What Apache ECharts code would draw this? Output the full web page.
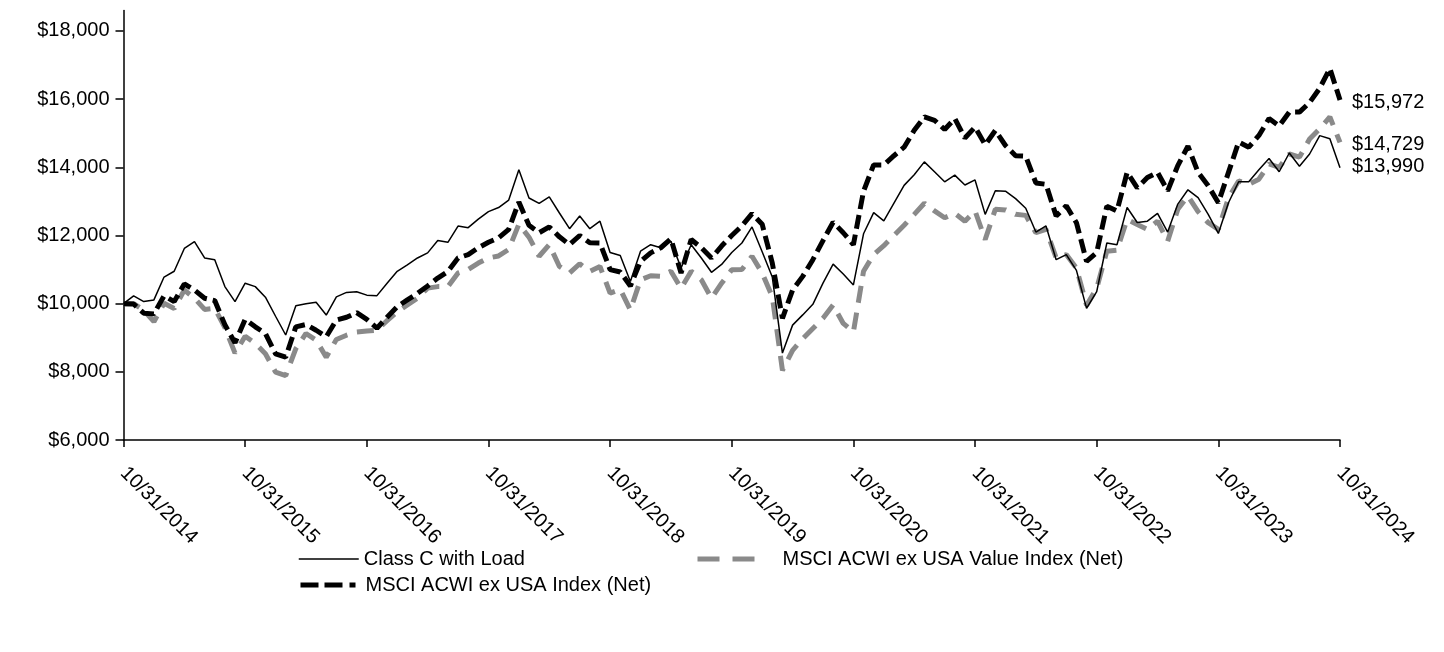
<!DOCTYPE html>
<html>
<head>
<meta charset="utf-8">
<script src="https://cdn.jsdelivr.net/npm/echarts@6/dist/echarts.min.js"></script>
<style>
html,body{margin:0;padding:0;background:#fff;}
#chart{width:1444px;height:652px;}
</style>
</head>
<body>
<div id="chart"></div>
<script>
// Month-end dates 10/31/2014 .. 10/31/2024 (121 points)
const categories = (function () {
  const out = [];
  const ends = [31, 28, 31, 30, 31, 30, 31, 31, 30, 31, 30, 31];
  let y = 2014, m = 10;
  for (let i = 0; i <= 120; i++) {
    const leap = (y % 4 === 0) && m === 2;
    const d = leap ? 29 : ends[m - 1];
    out.push(m + '/' + d + '/' + y);
    m++; if (m > 12) { m = 1; y++; }
  }
  return out;
})();

const classC = [
  10000, 10230, 10060, 10110, 10780, 10950, 11620, 11820, 11340, 11290,
  10500, 10060, 10600, 10500, 10190, 9630, 9080, 9940, 10000, 10040,
  9665, 10200, 10330, 10350, 10250, 10235, 10600, 10950, 11140, 11340,
  11490, 11850, 11800, 12275, 12230, 12480, 12700, 12820, 13040, 13930,
  13100, 12940, 13130, 12660, 12200, 12570, 12200, 12420, 11500, 11410,
  10650, 11540, 11730, 11640, 11830, 11050, 11730, 11340, 10920, 11150,
  11500, 11780, 12250, 11520, 10780, 8550, 9370, 9670, 9980, 10600,
  11160, 10870, 10550, 12050, 12670, 12430, 12950, 13470, 13780, 14160,
  13870, 13575, 13770, 13480, 13630, 12620, 13310, 13300, 13080, 12800,
  12100, 12280, 11290, 11440, 10975, 9860, 10350, 11780, 11730, 12820,
  12380, 12420, 12650, 12100, 12920, 13340, 13110, 12620, 12060, 12960,
  13575, 13575, 13930, 14260, 13870, 14420, 14030, 14390, 14930, 14840,
  13990
];

const acwiExUsa = [
  10000, 9990, 9720, 9700, 10230, 10060, 10580, 10400, 10160, 10090,
  9380, 8850, 9540, 9320, 9125, 8530, 8430, 9320, 9390, 9220,
  9030, 9520, 9600, 9735, 9540, 9280, 9600, 9910, 10110, 10300,
  10520, 10750, 10945, 11340, 11440, 11640, 11800, 11930, 12180, 12980,
  12300, 12080, 12250, 11960, 11730, 12000, 11785, 11780, 11000, 10930,
  10520, 11240, 11490, 11640, 11900, 10900, 11880, 11640, 11340, 11690,
  12000, 12280, 12640, 12330, 11190, 9570, 10400, 10800, 11290, 11850,
  12390, 12080, 11730, 13300, 14070, 14070, 14340, 14590, 15085, 15480,
  15380, 15110, 15430, 14860, 15180, 14660, 15080, 14640, 14340, 14325,
  13540, 13500, 12570, 12870, 12375, 11240, 11500, 12860, 12720, 13850,
  13400, 13700, 13850, 13310, 14050, 14620, 13850, 13460, 12960, 13850,
  14740, 14590, 14935, 15430, 15210, 15620, 15620, 15900, 16320, 16900,
  15972
];

const acwiExUsaValue = [
  10000, 10000, 9810, 9470, 10010, 9860, 10400, 10160, 9830, 9860,
  9300, 8550, 9045, 8830, 8530, 7990, 7890, 8680, 9125, 8930,
  8430, 8950, 9075, 9170, 9200, 9220, 9500, 9760, 9960, 10160,
  10455, 10500, 10500, 10900, 11000, 11190, 11340, 11400, 11590, 12330,
  11950, 11390, 11730, 11090, 10900, 11170, 10945, 11090, 10310, 10420,
  9812, 10700, 10820, 10800, 10950, 10450, 10950, 10700, 10160, 10600,
  10995, 11000, 11390, 10900, 10200, 8040, 8630, 8970, 9270, 9570,
  9960, 9420, 9170, 10950, 11440, 11700, 12000, 12300, 12620, 12946,
  12720, 12520, 12650, 12420, 12720, 11880, 12770, 12750, 12620, 12590,
  12080, 12180, 11340, 11440, 11045, 9950, 10450, 11540, 11570, 12470,
  12325, 12180, 12420, 11830, 12770, 13160, 12700, 12375, 12180, 13100,
  13600, 13500, 13650, 14100, 14000, 14390, 14300, 14830, 15130, 15480,
  14729
];

const yTickValues = [6000, 8000, 10000, 12000, 14000, 16000, 18000];
const seriesNames = ['Class C with Load', 'MSCI ACWI ex USA Index (Net)', 'MSCI ACWI ex USA Value Index (Net)'];

const FONT = "'Liberation Sans', Arial, sans-serif";
const fmtMoney = v => '$' + Math.round(v).toLocaleString('en-US');

const chart = echarts.init(document.getElementById('chart'), null, {renderer: 'canvas'});

function legendOf(name, left, top, itemWidth, dash) {
  return {
    data: [name], left: left, top: top,
    itemWidth: itemWidth, itemHeight: 14, selectedMode: false,
    textStyle: {fontFamily: FONT, fontSize: 20, color: '#000'},
    itemStyle: {opacity: 0},
    lineStyle: {width: 'inherit', type: dash, cap: 'butt'}
  };
}

chart.setOption({
  animation: false,
  backgroundColor: '#fff',
  textStyle: {fontFamily: FONT},
  grid: {left: 123.5, right: 104, top: 10.5, bottom: 212, containLabel: false},
  legend: [
    legendOf(seriesNames[0], 293, 544, 60, 'inherit'),
    legendOf(seriesNames[2], 690, 544, 80, [22, 13, 22, 40]),
    legendOf(seriesNames[1], 293, 570, 60, [18, 6, 18, 7, 6, 20])
  ],
  xAxis: {
    type: 'category',
    data: categories,
    boundaryGap: false,
    axisLine: {lineStyle: {color: '#000', width: 1.5}},
    axisTick: {show: true, interval: 11, length: 7, lineStyle: {color: '#000', width: 1.5}},
    axisLabel: {
      interval: 11, rotate: -45, margin: 30,
      fontFamily: FONT, fontSize: 20, color: '#000'
    },
    splitLine: {show: false}
  },
  yAxis: {
    type: 'value',
    min: 6000, max: 18600,
    axisLine: {show: true, lineStyle: {color: '#000', width: 1.5}},
    axisTick: {show: true, length: 8, customValues: yTickValues, lineStyle: {color: '#000', width: 1.5}},
    axisLabel: {
      customValues: yTickValues, margin: 14,
      fontFamily: FONT, fontSize: 20, color: '#000',
      formatter: v => fmtMoney(v)
    },
    splitLine: {show: false}
  },
  series: [
    {
      name: seriesNames[2], type: 'line', data: acwiExUsaValue, z: 2,
      showSymbol: false, symbol: 'none', color: '#8a8a8a',
      lineStyle: {color: '#8a8a8a', width: 5, type: [17, 10], cap: 'butt'},
      endLabel: {show: true, distance: 12, offset: [0, 2], formatter: p => fmtMoney(p.value), fontFamily: FONT, fontSize: 20, color: '#000'}
    },
    {
      name: seriesNames[0], type: 'line', data: classC, z: 3,
      showSymbol: false, symbol: 'none', color: '#000',
      lineStyle: {color: '#000', width: 1.5, type: 'solid'},
      endLabel: {show: true, distance: 12, offset: [0, -1], formatter: p => fmtMoney(p.value), fontFamily: FONT, fontSize: 20, color: '#000'}
    },
    {
      name: seriesNames[1], type: 'line', data: acwiExUsa, z: 4,
      showSymbol: false, symbol: 'none', color: '#000',
      lineStyle: {color: '#000', width: 5, type: [14, 6], cap: 'butt'},
      endLabel: {show: true, distance: 12, offset: [0, 2], formatter: p => fmtMoney(p.value), fontFamily: FONT, fontSize: 20, color: '#000'}
    }
  ]
});
</script>
</body>
</html>
